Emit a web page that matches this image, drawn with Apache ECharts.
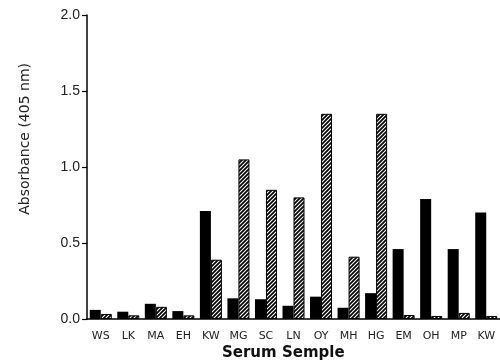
<!DOCTYPE html>
<html>
<head>
<meta charset="utf-8">
<script src="https://cdn.jsdelivr.net/npm/echarts@6/dist/echarts.min.js"></script>
<style>
html,body{margin:0;padding:0;background:#fff;}
#chart{width:500px;height:364px;}
</style>
</head>
<body>
<div id="chart"></div>
<script>
var categories = ['WS','LK','MA','EH','KW','MG','SC','LN','OY','MH','HG','EM','OH','MP','KW'];
var solidValues = [0.06,0.048,0.10,0.052,0.71,0.136,0.13,0.087,0.147,0.074,0.17,0.46,0.79,0.46,0.70];
var hatchedValues = [0.033,0.024,0.08,0.024,0.39,1.05,0.85,0.80,1.35,0.41,1.35,0.026,0.02,0.04,0.02];
var yTicks = [0, 0.5, 1.0, 1.5, 2.0];

function makePattern(){
  var c = document.createElement('canvas');
  c.width = 4; c.height = 4;
  var g = c.getContext('2d');
  g.fillStyle = '#000';
  g.fillRect(0,0,4,4);
  g.strokeStyle = '#fff';
  g.lineWidth = 1.1;
  g.beginPath();
  g.moveTo(-1,5); g.lineTo(5,-1);
  g.moveTo(-1,1); g.lineTo(1,-1);
  g.moveTo(3,5); g.lineTo(5,3);
  g.stroke();
  return c;
}

var chart = echarts.init(document.getElementById('chart'), null, {renderer:'canvas'});
chart.setOption({
  animation: false,
  backgroundColor: '#fff',
  grid: {left: 87, right: -10, top: 15, bottom: 45, containLabel: false},
  xAxis: {
    type: 'category',
    data: categories,
    axisLine: {lineStyle: {color: '#000', width: 1.5}},
    axisTick: {show: false},
    axisLabel: {color: '#222', fontFamily: 'DejaVu Sans', fontSize: 11, margin: 12, interval: 0}
  },
  yAxis: {
    type: 'value',
    min: yTicks[0], max: yTicks[yTicks.length-1], interval: 0.5,
    axisLine: {show: true, lineStyle: {color: '#000', width: 1.5}},
    axisTick: {show: true, inside: false, length: 5, lineStyle: {color: '#000', width: 1.2}},
    splitLine: {show: false},
    axisLabel: {color: '#222', fontFamily: 'Liberation Sans', fontSize: 14, margin: 7,
      formatter: function(v){ return v.toFixed(1); }}
  },
  graphic: [
    {type: 'text', left: 18, top: 63, rotation: Math.PI/2,
      style: {text: 'Absorbance (405 nm)', fontFamily: 'DejaVu Sans', fontSize: 14, fill: '#222',
        x: 0, y: 0}},
    {type: 'text', left: 222, top: 346,
      style: {text: 'Serum Semple', fontFamily: 'DejaVu Sans', fontWeight: 'bold', fontSize: 15, fill: '#111'}}
  ],
  series: [
    {type: 'bar', data: solidValues, barGap: '0%', barCategoryGap: '20%',
      itemStyle: {color: '#000'}},
    {type: 'bar', data: hatchedValues, barGap: '0%', barCategoryGap: '20%',
      itemStyle: {color: {image: makePattern(), repeat: 'repeat'}, borderColor: '#000', borderWidth: 1}}
  ]
});
</script>
</body>
</html>
